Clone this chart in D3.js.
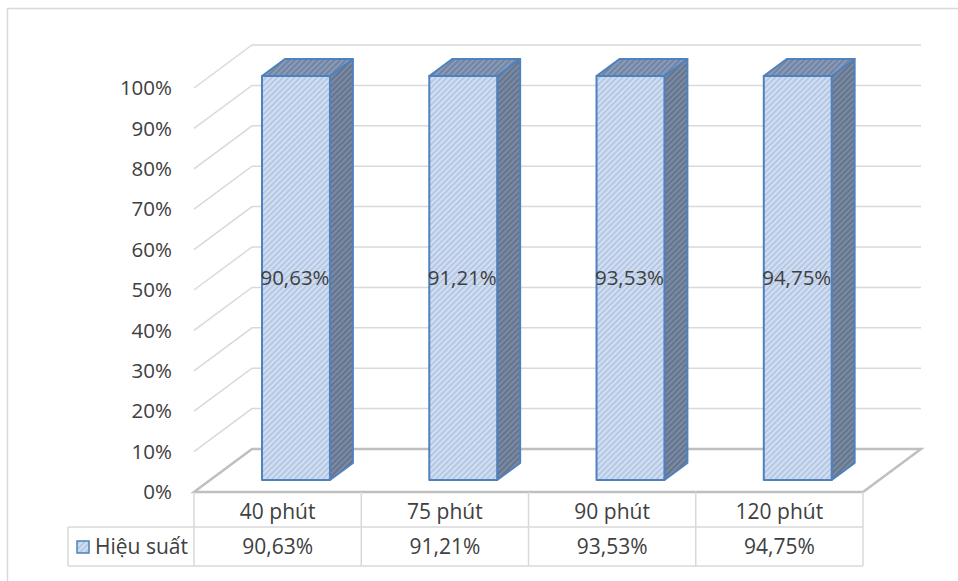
<!DOCTYPE html>
<html>
<head>
<meta charset="utf-8">
<script src="https://cdn.jsdelivr.net/npm/d3@7"></script>
<style>
  body { margin: 0; background: #fff; }
  text { font-family: "Open Sans", sans-serif; fill: #404040; }
</style>
</head>
<body>
<div id="chart"></div>
<script>
// data
const categories = ["40 phút", "75 phút", "90 phút", "120 phút"];
const seriesName = "Hiệu suất";
const values = [90.63, 91.21, 93.53, 94.75];
const ticks = [0, 0.1, 0.2, 0.3, 0.4, 0.5, 0.6, 0.7, 0.8, 0.9, 1];

const width = 958, height = 581;
const fmt = v => d3.format(".2f")(v).replace(".", ",") + "%";

// one series per category -> 100% stacked share
const data = categories.map((c, i) => ({cat: c, value: values[i], share: values[i] / d3.sum([values[i]])}));

const svg = d3.select("#chart").append("svg")
    .attr("width", width)
    .attr("height", height);

// frame
svg.append("rect")
    .attr("x", 7.5).attr("y", 8.5)
    .attr("width", 1000).attr("height", 700)
    .attr("fill", "none").attr("stroke", "#d9d9d9").attr("stroke-width", 1.5);

// patterns
const defs = svg.append("defs");
function hatch(id, base, line) {
  const p = defs.append("pattern")
      .attr("id", id)
      .attr("patternUnits", "userSpaceOnUse")
      .attr("width", 4).attr("height", 4)
      .attr("patternTransform", "rotate(45)");
  p.append("rect").attr("width", 4).attr("height", 4).attr("fill", base);
  p.append("line").attr("x1", 1).attr("x2", 1).attr("y1", 0).attr("y2", 4)
      .attr("stroke", line).attr("stroke-width", 1.6);
}
hatch("hFront", "#b4c8e6", "#dbe5f3");
hatch("hSide", "#66758e", "#8090a9");
hatch("hTop", "#7184a3", "#8fa1bd");

// scales
const x = d3.scaleBand().domain(categories).range([194, 863]);
const y = d3.scaleLinear().domain([0, 1]).range([492, 88]);
const depthX = 58, depthY = -43;
const px = (xv, d) => xv + d * depthX;
const py = (yv, d) => yv + d * depthY;

// gridlines: side wall + back wall
const grid = svg.append("g").attr("stroke", "#d9d9d9").attr("stroke-width", 1.5).attr("fill", "none");
grid.selectAll("path")
    .data(ticks.filter(t => t > 0))
    .join("path")
    .attr("d", t => `M${px(194, 0)},${py(y(t), 0)}L${px(194, 1)},${py(y(t), 1)}L${px(863, 1)},${py(y(t), 1)}`);

// floor
svg.append("path")
    .attr("d", `M${px(194,0)},${py(y(0),0)}L${px(863,0)},${py(y(0),0)}L${px(863,1)},${py(y(0),1)}L${px(194,1)},${py(y(0),1)}Z`)
    .attr("fill", "none").attr("stroke", "#bfbfbf").attr("stroke-width", 2.5);

// y axis labels
svg.append("g")
    .selectAll("text")
    .data(ticks)
    .join("text")
    .attr("x", 172)
    .attr("y", t => y(t))
    .attr("dy", "0.35em")
    .attr("text-anchor", "end")
    .attr("font-size", 20.5)
    .text(t => d3.format(".0%")(t));

// bars
const b0 = 0.31, b1 = 0.716, d0 = 0.279, d1 = 0.675;
const bars = svg.append("g")
    .attr("stroke", "#4f81bd").attr("stroke-width", 2).attr("stroke-linejoin", "round");

bars.selectAll("g")
    .data(data)
    .join("g")
    .each(function(d) {
      const g = d3.select(this);
      const xl = x(d.cat) + x.bandwidth() * b0;
      const xr = x(d.cat) + x.bandwidth() * b1;
      const yb = y(0), yt = y(d.share);
      // side
      g.append("path")
        .attr("fill", "url(#hSide)")
        .attr("d", `M${px(xr,d0)},${py(yb,d0)}L${px(xr,d1)},${py(yb,d1)}L${px(xr,d1)},${py(yt,d1)}L${px(xr,d0)},${py(yt,d0)}Z`);
      // top
      g.append("path")
        .attr("fill", "url(#hTop)")
        .attr("d", `M${px(xl,d0)},${py(yt,d0)}L${px(xr,d0)},${py(yt,d0)}L${px(xr,d1)},${py(yt,d1)}L${px(xl,d1)},${py(yt,d1)}Z`);
      // front
      g.append("path")
        .attr("fill", "url(#hFront)")
        .attr("d", `M${px(xl,d0)},${py(yb,d0)}L${px(xr,d0)},${py(yb,d0)}L${px(xr,d0)},${py(yt,d0)}L${px(xl,d0)},${py(yt,d0)}Z`);
    });

// value labels
svg.append("g")
    .selectAll("text")
    .data(data)
    .join("text")
    .attr("x", d => px(x(d.cat) + x.bandwidth() * (b0 + b1) / 2, d0) - 1)
    .attr("y", d => py(y(d.share / 2), d0))
    .attr("dy", "0.35em")
    .attr("text-anchor", "middle")
    .attr("font-size", 20.5)
    .text(d => fmt(d.value));

// data table
const rowTop = 492, rowMid = 527, rowBot = 566, legLeft = 68;
const tbl = svg.append("g").attr("stroke", "#d9d9d9").attr("stroke-width", 1.5);
tbl.append("line").attr("x1", legLeft).attr("x2", 863).attr("y1", rowMid).attr("y2", rowMid);
tbl.append("line").attr("x1", legLeft).attr("x2", 863).attr("y1", rowBot).attr("y2", rowBot);
tbl.append("line").attr("x1", legLeft).attr("x2", legLeft).attr("y1", rowMid).attr("y2", rowBot);
tbl.selectAll("line.col")
    .data(categories.map(c => x(c)).concat([x.range()[1]]))
    .join("line")
    .attr("class", "col")
    .attr("x1", d => d).attr("x2", d => d)
    .attr("y1", rowTop).attr("y2", rowBot);

svg.append("g")
    .selectAll("text")
    .data(categories)
    .join("text")
    .attr("x", c => x(c) + x.bandwidth() / 2)
    .attr("y", (rowTop + rowMid) / 2 + 2)
    .attr("dy", "0.35em")
    .attr("text-anchor", "middle")
    .attr("font-size", 21)
    .text(c => c);

svg.append("g")
    .selectAll("text")
    .data(data)
    .join("text")
    .attr("x", d => x(d.cat) + x.bandwidth() / 2)
    .attr("y", (rowMid + rowBot) / 2)
    .attr("dy", "0.35em")
    .attr("text-anchor", "middle")
    .attr("font-size", 21)
    .text(d => fmt(d.value));

// legend key in table
svg.append("rect")
    .attr("x", 77).attr("y", 541)
    .attr("width", 12).attr("height", 12)
    .attr("fill", "url(#hFront)")
    .attr("stroke", "#4f81bd").attr("stroke-width", 1.5);
svg.append("text")
    .attr("x", 95)
    .attr("y", (rowMid + rowBot) / 2)
    .attr("dy", "0.35em")
    .attr("font-size", 21)
    .text(seriesName);
</script>
</body>
</html>
